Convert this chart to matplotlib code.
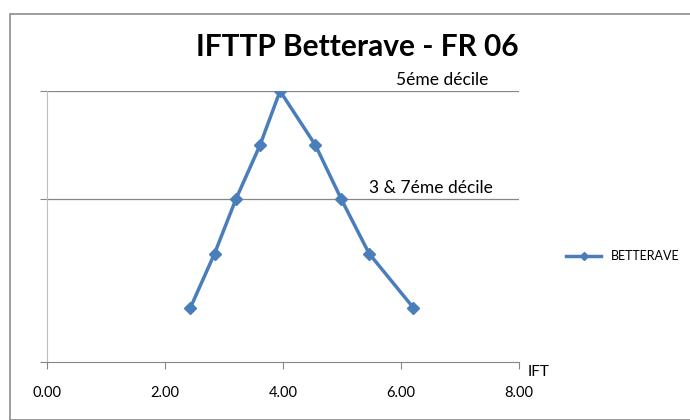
import matplotlib
matplotlib.use("Agg")
import matplotlib.pyplot as plt
from matplotlib.patches import Rectangle

# data
ift = [2.43, 2.84, 3.20, 3.61, 3.95, 4.55, 4.99, 5.46, 6.21]
decile = [1, 2, 3, 4, 5, 4, 3, 2, 1]
xticks = [0, 2, 4, 6, 8]
yticks = [0, 3, 5]

plt.rcParams['font.family'] = ['Lato', 'DejaVu Sans']

fig = plt.figure(figsize=(6.9, 4.2), dpi=100)
ax = fig.add_axes([47/690, 58/420, 472/690, 271/420])

# outer chart frame
fig.patches.append(Rectangle((10/690, 0), 1, 406/420, transform=fig.transFigure,
                             fill=False, edgecolor='#8c8c8c', linewidth=1.2))

blue = '#4a7ebb'
ax.plot(ift, decile, color=blue, linewidth=2.5, marker='D', markersize=6,
        markerfacecolor=blue, markeredgecolor=blue, label='BETTERAVE')

ax.set_xlim(0, 8)
ax.set_ylim(0, 5)
ax.set_xticks(xticks)
ax.set_xticklabels(['%.2f' % v for v in xticks], fontsize=10.5)
ax.set_yticks(yticks)
ax.set_yticklabels([])
for v in yticks[1:]:
    ax.axhline(v, color='#868686', linewidth=0.9, zorder=0)

for s in ['top', 'right']:
    ax.spines[s].set_visible(False)
ax.spines['bottom'].set_color('#868686')
ax.spines['left'].set_color('#bdbdbd')
ax.tick_params(axis='x', direction='out', length=5, color='#868686', pad=12)
ax.tick_params(axis='y', direction='out', length=5, color='#868686')

ax.text(8.15, -0.05, 'IFT', fontsize=11, ha='left', va='top')
ax.text(6.7, 5.05, '5éme décile', fontsize=12.5, ha='center', va='bottom')
ax.text(6.5, 3.06, '3 & 7éme décile', fontsize=12.5, ha='center', va='bottom')

fig.text(357/690, 1 - 47/420, 'IFTTP Betterave - FR 06', fontsize=21.5,
         fontweight='bold', ha='center', va='center')

fig.legend(loc='center left', bbox_to_anchor=(555/690, 1 - 256/420), frameon=False,
           fontsize=9, handlelength=2.8, markerscale=0.7)

fig.savefig('out.png', dpi=100)
